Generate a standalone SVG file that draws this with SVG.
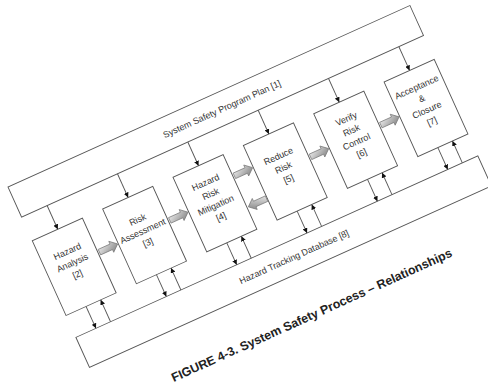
<svg xmlns="http://www.w3.org/2000/svg" width="488" height="387" viewBox="0 0 488 387">
<style>
.b{fill:#fff;stroke:#555;stroke-width:0.9}
.c{stroke:#555;stroke-width:0.9;fill:none;marker-end:url(#ah)}
.t{font-family:"Liberation Sans",Arial,sans-serif;font-size:9px;fill:#333;text-anchor:middle}
.cap{font-family:"Liberation Sans",Arial,sans-serif;font-size:12.4px;font-weight:bold;fill:#222;text-anchor:middle}
.ba{stroke:#777;stroke-width:0.7;fill:url(#g)}
</style>
<defs>
<marker id="ah" viewBox="0 0 6 6" refX="6" refY="3" markerWidth="5" markerHeight="5" orient="auto" markerUnits="userSpaceOnUse">
<path d="M0,0 L6,3 L0,6 Z" fill="#111"/>
</marker>
<linearGradient id="g" x1="0" y1="0" x2="1" y2="1">
<stop offset="0" stop-color="#f4f4f4"/>
<stop offset="1" stop-color="#7a7a7a"/>
</linearGradient>
<path id="ra" d="M0,-3 H13 V-6 L20,0 L13,6 V3 H0 Z"/>
</defs>
<rect width="488" height="387" fill="#fff"/>
<g transform="translate(8,187) rotate(-24.3)">
<g id="n1">
<rect class="b" x="0" y="0" width="441" height="33"/>
<text class="t" x="227" y="20">System Safety Program Plan [1]</text>
</g>
<g id="n8">
<rect class="b" x="0" y="165" width="441" height="33"/>
<text class="t" x="232" y="184.5">Hazard Tracking Database [8]</text>
</g>
<g id="n2">
<rect class="b" x="0" y="59" width="55" height="82"/>
<text class="t" x="27.5" y="86.2">Hazard</text>
<text class="t" x="27.5" y="98.7">Analysis</text>
<text class="t" x="27.5" y="111.2">[2]</text>
</g>
<g id="n3">
<rect class="b" x="77.2" y="59" width="55" height="82"/>
<text class="t" x="104.7" y="86.2">Risk</text>
<text class="t" x="104.7" y="98.7">Assessment</text>
<text class="t" x="104.7" y="111.2">[3]</text>
</g>
<g id="n4">
<rect class="b" x="154.4" y="59" width="55" height="82"/>
<text class="t" x="181.9" y="80.2">Hazard</text>
<text class="t" x="181.9" y="92.7">Risk</text>
<text class="t" x="181.9" y="105.2">Mitigation</text>
<text class="t" x="181.9" y="117.7">[4]</text>
</g>
<g id="n5">
<rect class="b" x="231.6" y="59" width="55" height="82"/>
<text class="t" x="259.1" y="86.2">Reduce</text>
<text class="t" x="259.1" y="98.7">Risk</text>
<text class="t" x="259.1" y="111.2">[5]</text>
</g>
<g id="n6">
<rect class="b" x="308.8" y="59" width="55" height="82"/>
<text class="t" x="336.3" y="80.2">Verify</text>
<text class="t" x="336.3" y="92.7">Risk</text>
<text class="t" x="336.3" y="105.2">Control</text>
<text class="t" x="336.3" y="117.7">[6]</text>
</g>
<g id="n7">
<rect class="b" x="386" y="59" width="55" height="82"/>
<text class="t" x="413.5" y="80.2">Acceptance</text>
<text class="t" x="413.5" y="92.7">&amp;</text>
<text class="t" x="413.5" y="105.2">Closure</text>
<text class="t" x="413.5" y="117.7">[7]</text>
</g>
<g id="connectors">
<line class="c" x1="28" y1="33" x2="28" y2="59"/>
<line class="c" x1="105.2" y1="33" x2="105.2" y2="59"/>
<line class="c" x1="182.4" y1="33" x2="182.4" y2="59"/>
<line class="c" x1="259.6" y1="33" x2="259.6" y2="59"/>
<line class="c" x1="336.8" y1="33" x2="336.8" y2="59"/>
<line class="c" x1="414" y1="33" x2="414" y2="59"/>
<line class="c" x1="22" y1="141" x2="22" y2="165"/>
<line class="c" x1="99.2" y1="141" x2="99.2" y2="165"/>
<line class="c" x1="176.4" y1="141" x2="176.4" y2="165"/>
<line class="c" x1="253.6" y1="141" x2="253.6" y2="165"/>
<line class="c" x1="330.8" y1="141" x2="330.8" y2="165"/>
<line class="c" x1="408" y1="141" x2="408" y2="165"/>
<line class="c" x1="38" y1="165" x2="38" y2="141"/>
<line class="c" x1="115.2" y1="165" x2="115.2" y2="141"/>
<line class="c" x1="192.4" y1="165" x2="192.4" y2="141"/>
<line class="c" x1="269.6" y1="165" x2="269.6" y2="141"/>
<line class="c" x1="346.8" y1="165" x2="346.8" y2="141"/>
<line class="c" x1="424" y1="165" x2="424" y2="141"/>
<use href="#ra" class="ba" x="56.5" y="97"/>
<use href="#ra" class="ba" x="133.7" y="97"/>
<use href="#ra" class="ba" x="210.9" y="83"/>
<use href="#ra" class="ba" transform="translate(441.8,0) scale(-1,1)" x="210.9" y="117"/>
<use href="#ra" class="ba" x="288.1" y="97"/>
<use href="#ra" class="ba" x="365.3" y="97"/>
</g>
<text class="cap" x="224" y="246">FIGURE 4-3.  System Safety Process – Relationships</text>
</g>
</svg>
